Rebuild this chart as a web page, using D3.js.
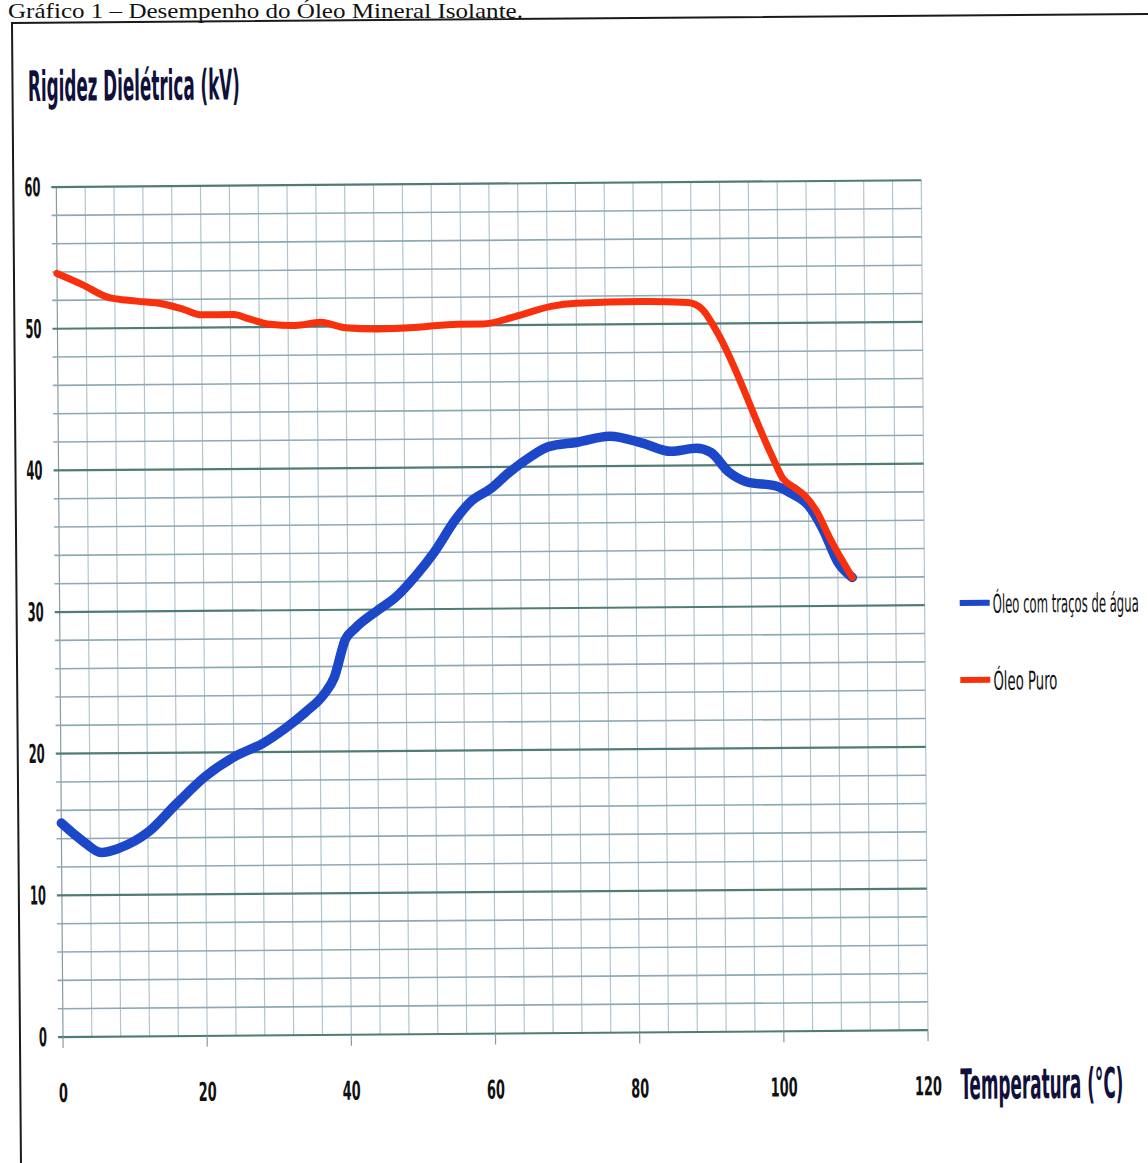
<!DOCTYPE html>
<html>
<head>
<meta charset="utf-8">
<script src="https://cdn.jsdelivr.net/npm/d3@7"></script>
<style>
  html, body { margin: 0; padding: 0; background: #ffffff; }
  svg { display: block; }
</style>
</head>
<body>
<svg id="chart" width="1148" height="1163"></svg>
<script>
// ---------- data ----------
const captionText = "Gráfico 1 – Desempenho do Óleo Mineral Isolante.";
const yTitle = "Rigidez Dielétrica (kV)";
const xTitle = "Temperatura (°C)";
const seriesNames = ["Óleo com traços de água", "Óleo Puro"];
const xTickValues = [0, 20, 40, 60, 80, 100, 120];
const yTickValues = [0, 10, 20, 30, 40, 50, 60];

const tempAgua = [0, 3, 5.5, 8, 12, 16, 20, 24.5, 28, 31, 34, 36.5, 38, 39.6, 41, 44, 46.5, 49.5, 52, 55, 57, 60, 62.5, 65.5, 68, 72, 76.5, 81, 85, 88.5, 90.5, 93, 95.5, 99.5, 101.5, 104, 106, 108, 110];
const rigidezAgua = [15.1, 13.8, 13.0, 13.3, 14.4, 16.4, 18.3, 19.8, 20.6, 21.6, 22.8, 24.0, 25.2, 27.9, 28.7, 29.9, 30.8, 32.4, 34.0, 36.3, 37.5, 38.5, 39.6, 40.7, 41.4, 41.7, 42.1, 41.6, 41.0, 41.2, 40.9, 39.5, 38.8, 38.5, 38.0, 37.1, 35.4, 33.1, 32.0];

const tempPuro = [0, 3.5, 7, 11, 14.5, 17.5, 20, 24.5, 26.5, 29.5, 33, 36.5, 40, 44.5, 50, 55.5, 59, 63.5, 68.5, 72, 81, 87.5, 89.5, 91.5, 99, 100.5, 102, 103.5, 105, 107, 110];
const rigidezPuro = [53.9, 53.1, 52.2, 51.9, 51.7, 51.3, 50.9, 50.9, 50.6, 50.2, 50.1, 50.3, 49.9, 49.8, 49.9, 50.1, 50.1, 50.6, 51.3, 51.5, 51.6, 51.5, 51.0, 49.4, 40.6, 39.0, 38.4, 37.8, 36.8, 34.7, 32.0];

const seriesColors = ["#1d47c9", "#f7300e"];

// ---------- drawing ----------
const svg = d3.select("#chart");
const tilt = -0.45;
const narrow = "'Liberation Sans Narrow', 'DejaVu Sans Condensed', 'Arial Narrow', sans-serif";

// tall, narrow text: small font stretched vertically so its box stays true
function tallText(parent, str, x0, y0, fs, k, len, opts = {}) {
  return parent.append("text")
    .attr("transform", `translate(${x0},${y0}) scale(1,${k})`)
    .attr("x", 0).attr("y", 0)
    .attr("text-anchor", opts.anchor || "start")
    .attr("font-family", narrow)
    .attr("font-weight", opts.weight || "normal")
    .attr("font-size", fs)
    .attr("fill", opts.fill || "#111")
    .attr("textLength", len)
    .attr("lengthAdjust", "spacingAndGlyphs")
    .text(str);
}

// caption
svg.append("text")
  .attr("x", 8).attr("y", 18)
  .attr("font-family", "'Liberation Serif', 'Times New Roman', serif")
  .attr("font-size", 21)
  .attr("fill", "#111")
  .attr("textLength", 515)
  .attr("lengthAdjust", "spacingAndGlyphs")
  .text(captionText);

// frame
svg.append("rect")
  .attr("x", 12).attr("y", 23)
  .attr("width", 1250).attr("height", 1250)
  .attr("fill", "none")
  .attr("stroke", "#1a1a1a")
  .attr("stroke-width", 2)
  .attr("transform", `rotate(${tilt},12,23)`);

// y title
const titleG = svg.append("g").attr("transform", `rotate(${tilt},28,101)`);
tallText(titleG, yTitle, 28, 101, 21, 2.0, 212, { weight: "bold", fill: "#10103a" });

const x = d3.scaleLinear().domain([0, 120]).range([63, 928]);
const y = d3.scaleLinear().domain([0, 60]).range([1037, 187]);

const plot = svg.append("g").attr("transform", `rotate(${tilt},63,1037)`);

// vertical grid every 4 units
const vGrid = d3.range(0, 121, 4);
plot.append("g").selectAll("line").data(vGrid).join("line")
  .attr("x1", d => x(d)).attr("x2", d => x(d))
  .attr("y1", y(60)).attr("y2", y(0))
  .attr("stroke", d => d === 0 ? "#8a9aa0" : "#b4c4cf")
  .attr("stroke-width", 1.2);

// horizontal grid every 2 units
const hGrid = d3.range(0, 61, 2);
plot.append("g").selectAll("line").data(hGrid).join("line")
  .attr("x1", x(0) - 5).attr("x2", x(120))
  .attr("y1", d => y(d)).attr("y2", d => y(d))
  .attr("stroke", d => d % 10 === 0 ? "#4f7c76" : "#8fa9b4")
  .attr("stroke-width", d => d % 10 === 0 ? 2.2 : 1.6);

// x axis ticks
plot.append("g").selectAll("line").data(xTickValues).join("line")
  .attr("x1", d => x(d)).attr("x2", d => x(d))
  .attr("y1", y(0)).attr("y2", y(0) + 11)
  .attr("stroke", "#8a9aa0").attr("stroke-width", 1.2);

// y tick labels
yTickValues.forEach(v => {
  tallText(plot, String(v), 47, y(v) + 9, 13, 2.0, String(v).length * 8, { anchor: "end", weight: "bold" });
});

// x tick labels
xTickValues.forEach(v => {
  tallText(plot, String(v), x(v), 1102, 13, 2.0, String(v).length * 9, { anchor: "middle", weight: "bold" });
});

// lines
const line = d3.line()
  .x(d => x(d[0])).y(d => y(d[1]))
  .curve(d3.curveMonotoneX);

const seriesData = [
  d3.zip(tempAgua, rigidezAgua),
  d3.zip(tempPuro, rigidezPuro)
];
const widths = [9.5, 7];

plot.append("g").selectAll("path").data(seriesData).join("path")
  .attr("d", line)
  .attr("fill", "none")
  .attr("stroke", (d, i) => seriesColors[i])
  .attr("stroke-width", (d, i) => widths[i])
  .attr("stroke-linecap", "round")
  .attr("stroke-linejoin", "round");

// x title
tallText(plot, xTitle, 960, 1106, 21, 2.0, 163, { weight: "bold", fill: "#10103a" });

// legend
const legendY = [603, 680];
const legendLen = [146, 64];
const legend = svg.append("g").attr("transform", `rotate(${tilt},960,640)`);
seriesNames.forEach((name, i) => {
  legend.append("line")
    .attr("x1", 960).attr("x2", 990)
    .attr("y1", legendY[i]).attr("y2", legendY[i])
    .attr("stroke", seriesColors[i]).attr("stroke-width", 6);
  tallText(legend, name, 993, legendY[i] + 10, 12, 2.15, legendLen[i]);
});
</script>
</body>
</html>
